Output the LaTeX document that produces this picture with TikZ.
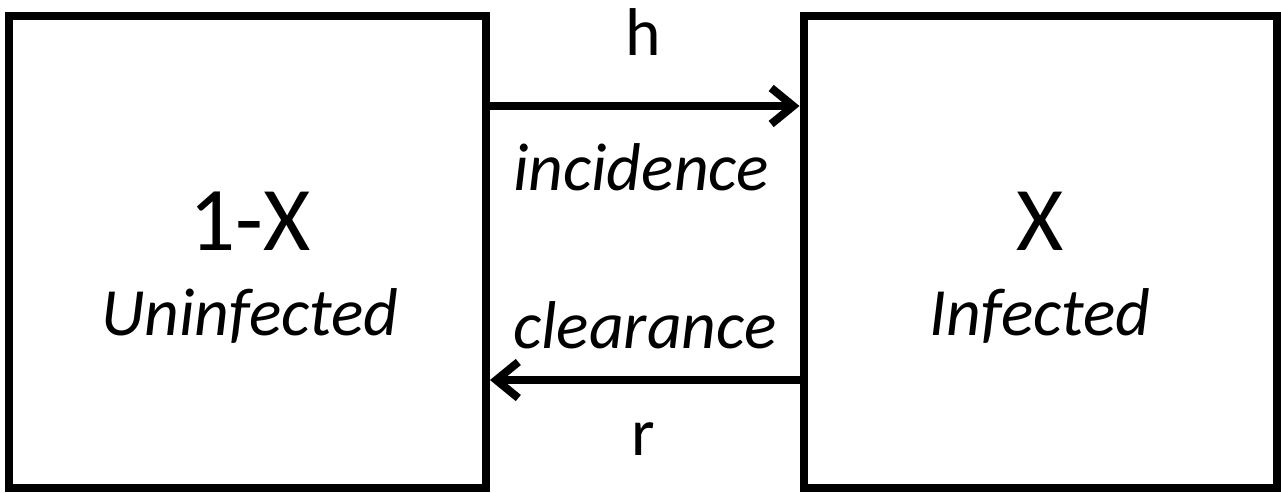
\documentclass[tikz,border=0pt]{standalone}
\usepackage{fontspec}
\setmainfont{Carlito}
\usetikzlibrary{arrows.meta}
\tikzstyle{arr}=[-{Straight Barb[length=11pt,width=18pt]},line width=4pt,line cap=round]
\tikzstyle{compbox}=[draw,line width=4pt,minimum width=238.5pt,minimum height=236pt,inner sep=0pt]
\tikzstyle{bigtext}=[font=\fontsize{45.5}{52}\selectfont,anchor=base]
\tikzstyle{itext}=[font=\fontsize{33.8}{40}\selectfont\itshape,anchor=base]
\tikzstyle{ratetext}=[font=\fontsize{33.8}{40}\selectfont,anchor=base]

\begin{document}
\begin{tikzpicture}[x=0.5pt,y=-0.5pt]
  \useasboundingbox (0,0) rectangle (1281,493);

  % compartments
  \node[compbox] (U) at (247.5,252) {};
  \node[compbox,minimum width=236.5pt] (I) at (1040,252) {};

  \node[bigtext] (ux) at (250,250) {1-X};
  \node[itext] (ut) at (250,335) {Uninfected};
  \node[bigtext] (ix) at (1040,250) {X};
  \node[itext] (it) at (1040,335) {Infected};

  % flows
  \node[ratetext] (h) at (643,55) {h};
  \node[itext] (inc) at (641,190) {incidence};
  \node[itext] (clr) at (645,348) {clearance};
  \node[ratetext] (r) at (643,455) {r};

  \draw[arr] ([yshift=73pt]U.east) -- ([yshift=73pt]I.west);
  \draw[arr] ([yshift=-64pt]I.west) -- ([yshift=-64pt]U.east);
\end{tikzpicture}
\end{document}
